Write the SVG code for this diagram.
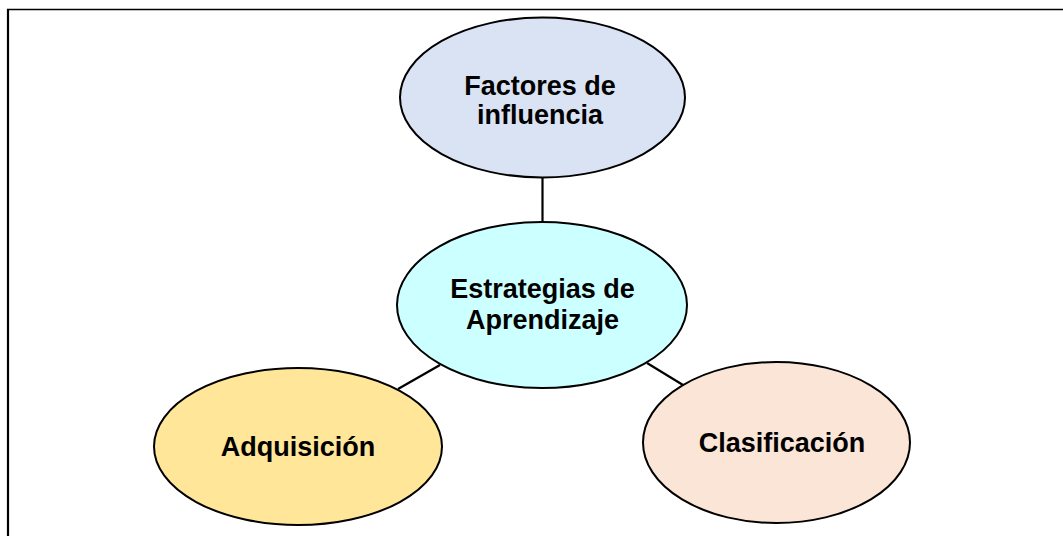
<svg xmlns="http://www.w3.org/2000/svg" width="1063" height="536" viewBox="0 0 1063 536">
<style>
.node ellipse{stroke:#000;stroke-width:2}
.node text{font-family:"Liberation Sans",Arial,sans-serif;font-weight:bold;font-size:27px;fill:#000;text-anchor:middle}
.conn line{stroke:#000;stroke-width:2.2}
</style>
<rect width="1063" height="536" fill="#fff"/>
<g id="frame">
<line x1="7" y1="9.5" x2="1063" y2="9.5" stroke="#000" stroke-width="1.3"/>
<line x1="8" y1="9" x2="8" y2="536" stroke="#000" stroke-width="2.2"/>
</g>
<g class="conn" id="connectors">
<line x1="542.5" y1="178" x2="542.5" y2="222"/>
<line x1="398" y1="389" x2="440" y2="365"/>
<line x1="647" y1="363" x2="683" y2="385"/>
</g>
<g class="node" id="factores">
<ellipse cx="542.5" cy="97.5" rx="142.5" ry="80" fill="#DAE3F3"/>
<text x="540" y="95">Factores de</text>
<text x="540" y="124">influencia</text>
</g>
<g class="node" id="estrategias">
<ellipse cx="542" cy="305" rx="145" ry="83" fill="#CCFFFF"/>
<text x="542.5" y="298">Estrategias de</text>
<text x="542.5" y="329">Aprendizaje</text>
</g>
<g class="node" id="adquisicion">
<ellipse cx="298" cy="446.5" rx="144" ry="78.5" fill="#FFE699"/>
<text x="298" y="456">Adquisición</text>
</g>
<g class="node" id="clasificacion">
<ellipse cx="776.5" cy="442.5" rx="133.5" ry="80.5" fill="#FBE5D6"/>
<text x="782" y="452">Clasificación</text>
</g>
</svg>
